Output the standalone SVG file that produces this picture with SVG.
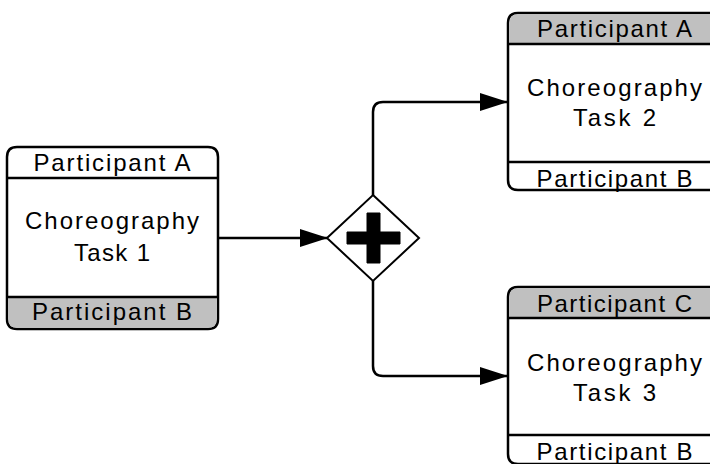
<svg xmlns="http://www.w3.org/2000/svg" width="710" height="464" viewBox="0 0 710 464">
<style>
.box{fill:#fff;stroke:#000;stroke-width:2.5}
.band{fill:#c0c0c0;stroke:none}
.ln{stroke:#000;stroke-width:2.5;fill:none}
.t{font-family:"Liberation Sans",Arial,sans-serif;font-size:24px;fill:#000;text-anchor:middle}
</style>
<defs>
<marker id="arr" markerWidth="28" markerHeight="20" refX="27" refY="10" orient="auto" markerUnits="userSpaceOnUse">
<path d="M0,1 L28,10 L0,19 Z" fill="#000"/>
</marker>
</defs>
<g id="connectors">
<line class="ln" x1="218" y1="238" x2="327" y2="238" marker-end="url(#arr)"/>
<path class="ln" d="M373,195 V112 Q373,102 383,102 H507" marker-end="url(#arr)"/>
<path class="ln" d="M373,281 V366 Q373,376 383,376 H507" marker-end="url(#arr)"/>
</g>
<g id="task1">
<path class="box" d="M17,147 H208 Q218,147 218,157 V319 Q218,329 208,329 H17 Q7,329 7,319 V157 Q7,147 17,147 Z"/>
<path class="band" d="M8.3,297 H216.7 V319 Q216.7,327.7 208,327.7 H17 Q8.3,327.7 8.3,319 Z"/>
<line class="ln" x1="7" y1="178" x2="218" y2="178"/>
<line class="ln" x1="7" y1="297" x2="218" y2="297"/>
<text class="t" x="112" y="170.5" textLength="157" lengthAdjust="spacing">Participant A</text>
<text class="t" x="112" y="229" textLength="174" lengthAdjust="spacing">Choreography</text>
<text class="t" x="112" y="261" textLength="76" lengthAdjust="spacing">Task 1</text>
<text class="t" x="112" y="320" textLength="160" lengthAdjust="spacing">Participant B</text>
</g>
<g id="gateway">
<polygon points="373,195 419,238 373,281 327,238" fill="#fff" stroke="#000" stroke-width="2"/>
<path d="M347,232 H367 V213 H380 V232 H400 V244 H380 V263 H367 V244 H347 Z" fill="#000" stroke="#000" stroke-width="1" stroke-linejoin="round"/>
</g>
<g id="task2">
<path class="box" d="M518,13 H711 Q721,13 721,23 V180 Q721,190 711,190 H518 Q508,190 508,180 V23 Q508,13 518,13 Z"/>
<path class="band" d="M518,14.3 H711 Q719.7,14.3 719.7,23 V44 H509.3 V23 Q509.3,14.3 518,14.3 Z"/>
<line class="ln" x1="508" y1="44" x2="721" y2="44"/>
<line class="ln" x1="508" y1="162" x2="721" y2="162"/>
<text class="t" x="614.5" y="36.5" textLength="155" lengthAdjust="spacing">Participant A</text>
<text class="t" x="614.5" y="96" textLength="175" lengthAdjust="spacing">Choreography</text>
<text class="t" x="614.5" y="126" textLength="83" lengthAdjust="spacing">Task 2</text>
<text class="t" x="614.5" y="186.5" textLength="156" lengthAdjust="spacing">Participant B</text>
</g>
<g id="task3">
<path class="box" d="M518,287 H711 Q721,287 721,297 V454 Q721,464 711,464 H518 Q508,464 508,454 V297 Q508,287 518,287 Z"/>
<path class="band" d="M518,288.3 H711 Q719.7,288.3 719.7,297 V318 H509.3 V297 Q509.3,288.3 518,288.3 Z"/>
<line class="ln" x1="508" y1="318" x2="721" y2="318"/>
<line class="ln" x1="508" y1="435" x2="721" y2="435"/>
<text class="t" x="614.5" y="311.5" textLength="155" lengthAdjust="spacing">Participant C</text>
<text class="t" x="614.5" y="371" textLength="175" lengthAdjust="spacing">Choreography</text>
<text class="t" x="614.5" y="401" textLength="83" lengthAdjust="spacing">Task 3</text>
<text class="t" x="614.5" y="459.5" textLength="156" lengthAdjust="spacing">Participant B</text>
</g>
</svg>
